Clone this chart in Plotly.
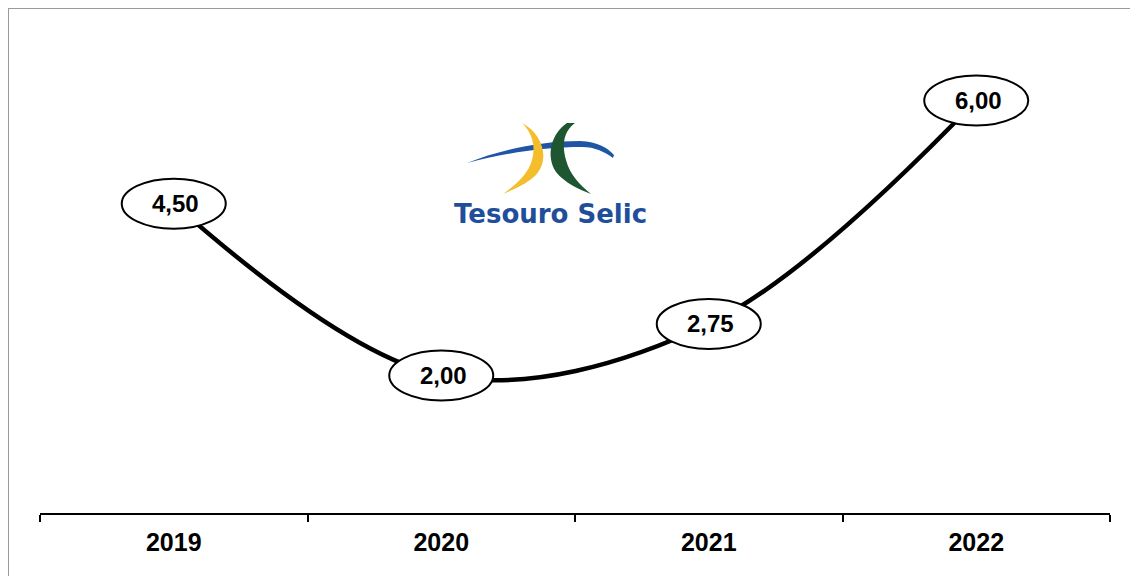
import plotly.graph_objects as go

years = ["2019", "2020", "2021", "2022"]
selic = [4.50, 2.00, 2.75, 6.00]
labels = [f"{v:.2f}".replace(".", ",") for v in selic]

# figure sits 8px inside the page (body margin)
W, H = 1130, 568
ML, MR, MT, MB = 32, 28, 2, 63
PW, PH = W - ML - MR, H - MT - MB
OFF = 8  # page offset used to translate reference pixel positions


def px2paper(x, y):
    return (x - OFF - ML) / PW, (H - MB - (y - OFF)) / PH


def path_from_px(pts):
    parts = []
    for cmd, coords in pts:
        cs = []
        for j in range(0, len(coords), 2):
            px, py = px2paper(coords[j], coords[j + 1])
            cs.append(f"{px:.5f},{py:.5f}")
        parts.append(cmd + " ".join(cs))
    return " ".join(parts) + " Z"


fig = go.Figure()
fig.add_trace(go.Scatter(
    x=years, y=selic, mode="lines",
    line=dict(color="black", width=4.5, shape="spline", smoothing=1.0),
    hoverinfo="skip", showlegend=False,
))

shapes = []
# outer frame (top and left edges of the figure)
shapes.append(dict(type="rect", xref="paper", yref="paper",
                   x0=-ML / PW, y0=-(MB + 20) / PH, x1=(PW + MR + 20) / PW, y1=(PH + MT) / PH,
                   line=dict(color="#9a9a9a", width=2), layer="below"))

# logo swooshes (decoration)
blue = path_from_px([
    ("M", (467, 163)),
    ("C", (500, 150, 540, 141, 580, 141)),
    ("C", (598, 142, 608, 148, 614, 155)),
    ("L", (613, 158)),
    ("C", (605, 152, 595, 147, 582, 147)),
    ("C", (545, 147, 505, 153, 467, 163)),
])
yellow = path_from_px([
    ("M", (522, 123)),
    ("C", (545, 135, 552, 165, 530, 180)),
    ("C", (522, 186, 512, 190, 503, 194)),
    ("C", (515, 185, 528, 175, 532, 160)),
    ("C", (536, 145, 532, 133, 522, 123)),
])
green = path_from_px([
    ("M", (567, 123)),
    ("C", (552, 133, 545, 155, 556, 172)),
    ("C", (565, 183, 578, 189, 591, 194)),
    ("C", (580, 185, 570, 175, 566, 160)),
    ("C", (562, 145, 563, 132, 575, 123)),
])
shapes.append(dict(type="path", xref="paper", yref="paper", path=blue,
                   fillcolor="#1f55a5", line=dict(width=0), layer="above"))
shapes.append(dict(type="path", xref="paper", yref="paper", path=green,
                   fillcolor="#1d5631", line=dict(width=0), layer="above"))
shapes.append(dict(type="path", xref="paper", yref="paper", path=yellow,
                   fillcolor="#f4bd2b", line=dict(width=0), layer="above"))

# ellipses around value labels
for i, v in enumerate(selic):
    shapes.append(dict(type="circle", xref="x", yref="y",
                       xsizemode="pixel", ysizemode="pixel",
                       xanchor=i, yanchor=v,
                       x0=-52, x1=52, y0=-25, y1=25,
                       fillcolor="white", line=dict(color="black", width=2),
                       layer="above"))

annotations = []
for i, (v, t) in enumerate(zip(selic, labels)):
    annotations.append(dict(x=i, y=v, xref="x", yref="y", text=f"<b>{t}</b>",
                            showarrow=False, xshift=2,
                            font=dict(family="Liberation Sans, Arial", size=24, color="black")))

lx, ly = px2paper(550, 214)
annotations.append(dict(x=lx, y=ly, xref="paper", yref="paper", text="<b>Tesouro Selic</b>",
                        showarrow=False, xanchor="center", yanchor="middle",
                        font=dict(family="DejaVu Sans", size=26, color="#1f4e9a")))

fig.update_layout(
    width=W, height=H,
    margin=dict(l=ML, r=MR, t=MT, b=MB),
    paper_bgcolor="white", plot_bgcolor="white",
    shapes=shapes, annotations=annotations,
    xaxis=dict(type="category", showgrid=False, zeroline=False,
               showline=True, linecolor="black", linewidth=2,
               ticks="outside", tickson="boundaries", ticklen=7,
               tickwidth=2, tickcolor="black", ticklabelstandoff=6,
               tickfont=dict(family="Liberation Sans, Arial", size=25, color="black"),
               tickprefix="<b>", ticksuffix="</b>",
               range=[-0.5, 3.5]),
    yaxis=dict(range=[0, PH / 68.75], visible=False, showgrid=False, zeroline=False),
    showlegend=False,
)

fig.write_html("out.html")
